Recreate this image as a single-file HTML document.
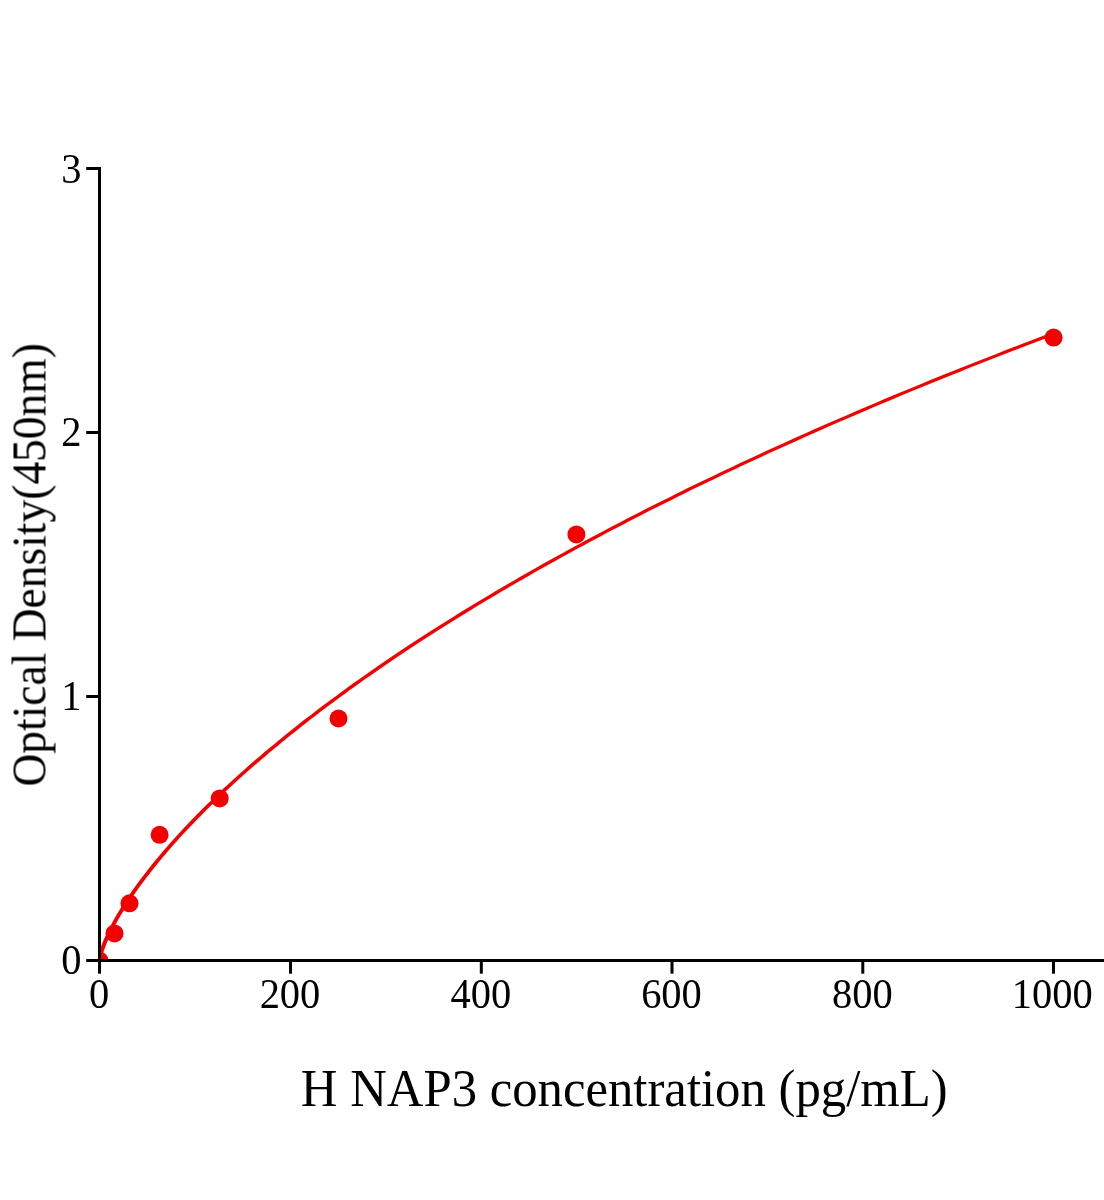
<!DOCTYPE html>
<html>
<head>
<meta charset="utf-8">
<title>H NAP3 standard curve</title>
<style>
html,body{margin:0;padding:0;background:#fff;}
body{width:1104px;height:1200px;overflow:hidden;font-family:"Liberation Serif",serif;}
svg{display:block;}
text{font-family:"Liberation Serif",serif;fill:#000;}
#labels{opacity:0.999;}
</style>
</head>
<body>
<svg width="1104" height="1200" viewBox="0 0 1104 1200">
<rect x="0" y="0" width="1104" height="1200" fill="#ffffff"/>
<defs>
<clipPath id="plot"><rect x="99.5" y="0" width="1010" height="960.5"/></clipPath>
</defs>
<!-- data -->
<g clip-path="url(#plot)">
<g transform="scale(1.37,1)"><path id="curve" d="M72.63,960.3 L72.64,960.1 L72.68,959.6 L72.74,959.0 L72.82,958.3 L72.93,957.5 L73.07,956.7 L73.22,955.8 L73.41,954.8 L73.61,953.8 L73.85,952.7 L74.10,951.5 L74.38,950.3 L74.69,949.1 L75.02,947.8 L75.37,946.5 L75.75,945.1 L76.15,943.7 L76.58,942.3 L77.03,940.8 L77.50,939.3 L78.00,937.7 L78.52,936.1 L79.07,934.5 L79.65,932.9 L80.24,931.2 L80.86,929.5 L81.51,927.8 L82.18,926.0 L82.87,924.3 L83.59,922.4 L84.34,920.6 L85.10,918.7 L85.90,916.9 L86.71,914.9 L87.55,913.0 L88.42,911.1 L89.31,909.1 L90.22,907.1 L91.16,905.0 L92.12,903.0 L93.11,900.9 L94.12,898.8 L95.16,896.7 L96.22,894.6 L97.30,892.5 L98.41,890.3 L99.54,888.1 L100.70,885.9 L101.88,883.7 L103.09,881.5 L104.32,879.2 L105.57,876.9 L106.85,874.7 L108.16,872.4 L109.49,870.0 L110.84,867.7 L112.21,865.4 L113.62,863.0 L115.04,860.6 L116.49,858.2 L117.97,855.8 L119.46,853.4 L120.99,850.9 L122.54,848.5 L124.11,846.0 L125.70,843.5 L127.32,841.1 L128.97,838.5 L130.64,836.0 L132.33,833.5 L134.05,831.0 L135.79,828.4 L137.56,825.8 L139.35,823.3 L141.17,820.7 L143.00,818.1 L144.87,815.5 L146.76,812.9 L148.67,810.2 L150.61,807.6 L152.57,804.9 L154.56,802.3 L156.57,799.6 L158.60,796.9 L160.66,794.2 L162.74,791.5 L164.85,788.8 L166.98,786.1 L169.14,783.4 L171.32,780.6 L173.53,777.9 L175.76,775.1 L178.01,772.4 L180.29,769.6 L182.59,766.8 L184.92,764.1 L187.27,761.3 L189.65,758.5 L192.05,755.7 L194.47,752.8 L196.92,750.0 L199.39,747.2 L201.89,744.4 L204.41,741.5 L206.96,738.7 L209.53,735.8 L212.13,732.9 L214.75,730.1 L217.39,727.2 L220.06,724.3 L222.75,721.4 L225.47,718.5 L228.21,715.7 L230.98,712.7 L233.77,709.8 L236.58,706.9 L239.42,704.0 L242.28,701.1 L245.17,698.2 L248.08,695.2 L251.02,692.3 L253.98,689.3 L256.97,686.4 L259.98,683.4 L263.01,680.5 L266.07,677.5 L269.15,674.6 L272.26,671.6 L275.39,668.6 L278.54,665.6 L281.72,662.7 L284.93,659.7 L288.16,656.7 L291.41,653.7 L294.69,650.7 L297.99,647.7 L301.32,644.7 L304.67,641.7 L308.04,638.7 L311.44,635.7 L314.87,632.7 L318.31,629.7 L321.79,626.6 L325.28,623.6 L328.80,620.6 L332.35,617.6 L335.92,614.5 L339.51,611.5 L343.13,608.5 L346.78,605.4 L350.44,602.4 L354.14,599.4 L357.85,596.3 L361.59,593.3 L365.36,590.2 L369.15,587.2 L372.96,584.1 L376.80,581.1 L380.66,578.0 L384.55,575.0 L388.46,571.9 L392.40,568.9 L396.36,565.8 L400.34,562.7 L404.35,559.7 L408.38,556.6 L412.44,553.6 L416.52,550.5 L420.63,547.4 L424.76,544.4 L428.91,541.3 L433.09,538.2 L437.29,535.2 L441.52,532.1 L445.78,529.0 L450.05,526.0 L454.35,522.9 L458.68,519.8 L463.03,516.8 L467.40,513.7 L471.80,510.6 L476.22,507.6 L480.67,504.5 L485.14,501.4 L489.64,498.4 L494.16,495.3 L498.70,492.2 L503.27,489.1 L507.87,486.1 L512.48,483.0 L517.13,479.9 L521.79,476.9 L526.48,473.8 L531.20,470.7 L535.94,467.7 L540.70,464.6 L545.49,461.5 L550.31,458.5 L555.14,455.4 L560.00,452.3 L564.89,449.3 L569.80,446.2 L574.73,443.2 L579.69,440.1 L584.68,437.0 L589.69,434.0 L594.72,430.9 L599.77,427.9 L604.85,424.8 L609.96,421.8 L615.09,418.7 L620.24,415.7 L625.42,412.6 L630.62,409.6 L635.85,406.5 L641.10,403.5 L646.38,400.4 L651.68,397.4 L657.00,394.3 L662.35,391.3 L667.73,388.3 L673.12,385.2 L678.55,382.2 L683.99,379.2 L689.46,376.1 L694.96,373.1 L700.48,370.1 L706.02,367.0 L711.59,364.0 L717.18,361.0 L722.80,358.0 L728.44,355.0 L734.11,351.9 L739.80,348.9 L745.51,345.9 L751.25,342.9 L757.01,339.9 L762.80,336.9 L768.61,333.9" fill="none" stroke="#f40000" stroke-width="3.03" stroke-linecap="round" stroke-linejoin="round"/></g>
<g fill="#f40000">
<circle cx="99.5" cy="960.5" r="9"/>
<circle cx="114.5" cy="933.4" r="9"/>
<circle cx="129.5" cy="903.3" r="9"/>
<circle cx="159.6" cy="834.8" r="9"/>
<circle cx="219.7" cy="798.4" r="9"/>
<circle cx="338.5" cy="718.5" r="9"/>
<circle cx="576.4" cy="534.4" r="9"/>
<circle cx="1053.6" cy="337.6" r="9"/>
</g>
</g>
<!-- axes -->
<g fill="#000">
<rect x="98" y="167" width="3" height="806.7"/>
<rect x="86.2" y="959" width="1018" height="3"/>
<rect x="86.2" y="167" width="13" height="3"/>
<rect x="86.2" y="431" width="13" height="3"/>
<rect x="86.2" y="695" width="13" height="3"/>
<rect x="289" y="960" width="3" height="13.7"/>
<rect x="479.8" y="960" width="3" height="13.7"/>
<rect x="670.5" y="960" width="3" height="13.7"/>
<rect x="861.3" y="960" width="3" height="13.7"/>
<rect x="1052" y="960" width="3" height="13.7"/>
</g>
<g id="labels">
<g font-size="40.5" text-anchor="end">
<text transform="translate(81.5,182.6) scale(1,1.065)">3</text>
<text transform="translate(81.5,446.2) scale(1,1.065)">2</text>
<text transform="translate(81.5,710.2) scale(1,1.065)">1</text>
<text transform="translate(81.5,974.2) scale(1,1.065)">0</text>
</g>
<g font-size="40.5" text-anchor="middle">
<text transform="translate(99.2,1008) scale(1,1.065)">0</text>
<text transform="translate(290,1008) scale(1,1.065)">200</text>
<text transform="translate(480.8,1008) scale(1,1.065)">400</text>
<text transform="translate(671.5,1008) scale(1,1.065)">600</text>
<text transform="translate(862.3,1008) scale(1,1.065)">800</text>
<text transform="translate(1052.3,1008) scale(1,1.065)">1000</text>
</g>
<text transform="translate(300.8,1106) scale(1,1.055)" font-size="50.75">H NAP3 concentration (pg/mL)</text>
<text transform="translate(45.8,786.5) rotate(-90) scale(1,1.055)" font-size="45.5">Optical Density(450nm)</text>
</g></svg>
</body>
</html>
